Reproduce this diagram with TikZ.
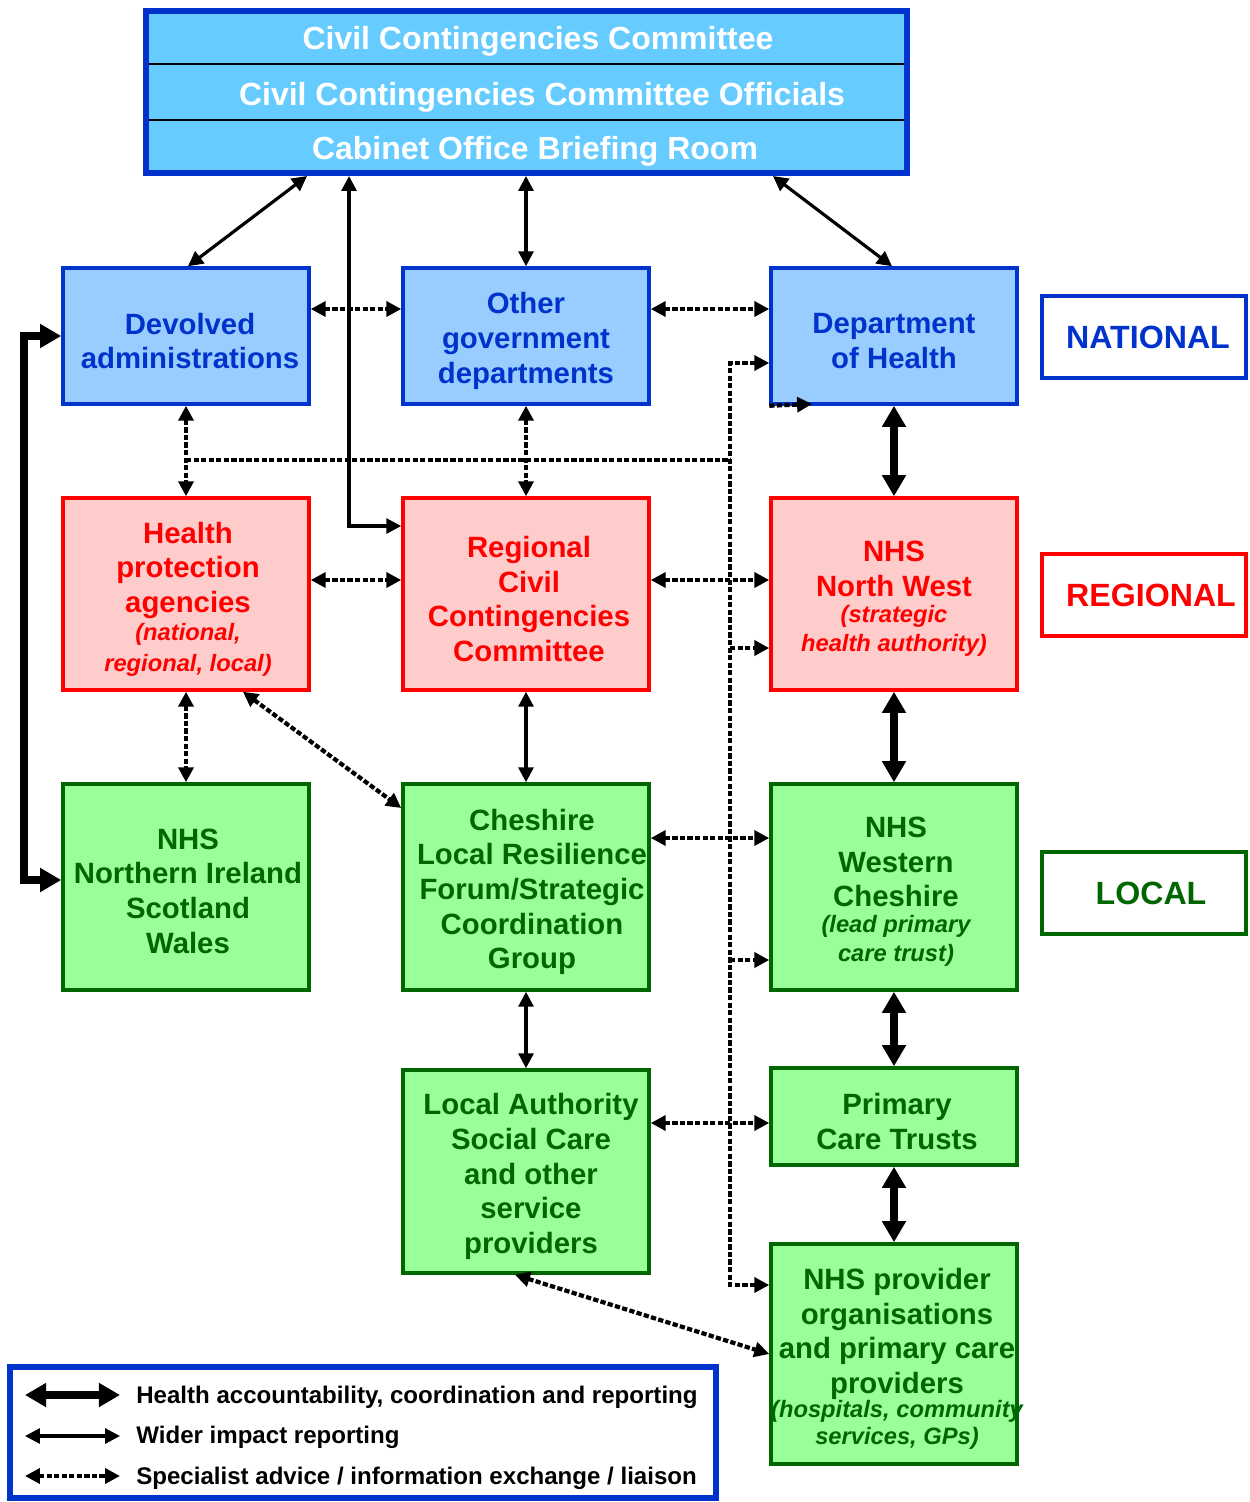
\documentclass[tikz,border=0pt]{standalone}
\usepackage{fontspec}
\setmainfont{Liberation Sans}
\usetikzlibrary{arrows.meta}
\definecolor{topfill}{HTML}{66CCFF}
\definecolor{natfill}{HTML}{99CCFF}
\definecolor{natline}{HTML}{0033CC}
\definecolor{regfill}{HTML}{FFCCCC}
\definecolor{regline}{HTML}{FF0000}
\definecolor{locfill}{HTML}{99FF99}
\definecolor{locline}{HTML}{006600}
\newcommand\subt[1]{{\fontsize{13.5}{16}\selectfont\itshape #1}}
\begin{document}
\begin{tikzpicture}[x=0.02cm,y=-0.02cm,
  box/.style={draw, line width=2pt, rectangle, inner sep=0pt, minimum width=246*0.02cm},
  natbox/.style={box, fill=natfill, draw=natline},
  regbox/.style={box, fill=regfill, draw=regline},
  locbox/.style={box, fill=locfill, draw=locline},
  hgt/.style={minimum height=#1*0.02cm},
  btext/.style={align=center, inner sep=0pt, font=\fontsize{16.7}{19.7}\selectfont\bfseries},
  toptext/.style={text=white, font=\fontsize{18.2}{21}\selectfont\bfseries, inner sep=0pt},
  lvl/.style={draw, line width=2.2pt, fill=white, minimum width=204*0.02cm, minimum height=82*0.02cm, inner sep=0pt},
  lvltext/.style={font=\fontsize{18.3}{21}\selectfont\bfseries, inner sep=0pt},
  legtext/.style={anchor=west, font=\fontsize{13.7}{16}\selectfont\bfseries, inner sep=0pt},
  thickarr/.style={line width=5.1pt, {Triangle[width=13pt,length=12pt]}-{Triangle[width=13pt,length=12pt]}},
  solarr/.style={line width=1.8pt, {Triangle[width=8.5pt,length=8.5pt]}-{Triangle[width=8.5pt,length=8.5pt]}},
  dotln/.style={line width=2.4pt, dash pattern=on 3pt off 1.3pt},
  dotarr/.style={dotln, {Triangle[width=8.5pt,length=8.5pt]}-{Triangle[width=8.5pt,length=8.5pt]}},
  dotto/.style={dotln, -{Triangle[width=8.5pt,length=8.5pt]}}
]
\useasboundingbox (0,0) rectangle (1249,1502);

% top box
\node[draw=natline, fill=topfill, line width=3.4pt, minimum width=761*0.02cm, minimum height=162*0.02cm, inner sep=0pt] (top) at (526.5,92) {};
\draw[black, line width=1.3pt] (149,64) -- (904,64);
\draw[black, line width=1.3pt] (149,120) -- (904,120);
\node[toptext] (r1) at (538,41) {Civil Contingencies Committee};
\node[toptext] (r2) at (542,97) {Civil Contingencies Committee Officials};
\node[toptext] (r3) at (535,151) {Cabinet Office Briefing Room};

% national
\node[natbox, hgt=136] (dev) at (186,336) {};
\node[natbox, hgt=136] (ogd) at (526,336) {};
\node[natbox, hgt=136] (doh) at (894,336) {};
\node[btext, text=natline] (devT) at ([xshift=0.08cm,yshift=-0.1cm]dev.center) {Devolved\\administrations};
\node[btext, text=natline] (ogdT) at ([yshift=-0.1cm]ogd.center) {Other\\government\\departments};
\node[btext, text=natline] (dohT) at ([yshift=-0.1cm]doh.center) {Department\\of Health};

% regional
\node[regbox, hgt=192] (hpa) at (186,594) {};
\node[regbox, hgt=192] (rcc) at (526,594) {};
\node[regbox, hgt=192] (nw) at (894,594) {};
\node[btext, text=regline] (hpaT) at ([xshift=0.04cm,yshift=-0.1cm]hpa.center) {Health\\protection\\agencies\\[-4pt]\subt{(national,}\\[-2pt]\subt{regional, local)}};
\node[btext, text=regline] (rccT) at ([xshift=0.06cm,yshift=-0.1cm]rcc.center) {Regional\\Civil\\Contingencies\\Committee};
\node[btext, text=regline] (nwT) at ([yshift=-0.1cm]nw.center) {NHS\\North West\\[-5pt]\subt{(strategic}\\[-3pt]\subt{health authority)}};

% local
\node[locbox, hgt=206] (ni) at (186,887) {};
\node[locbox, hgt=206] (ch) at (526,887) {};
\node[locbox, hgt=206] (wc) at (894,887) {};
\node[locbox, hgt=203] (la) at (526,1171.5) {};
\node[locbox, hgt=97] (pct) at (894,1116.5) {};
\node[locbox, hgt=220] (prov) at (894,1354) {};
\node[btext, text=locline] (niT) at ([xshift=0.04cm,yshift=-0.08cm]ni.center) {NHS\\Northern Ireland\\Scotland\\Wales};
\node[btext, text=locline] (chT) at ([xshift=0.12cm,yshift=-0.1cm]ch.center) {Cheshire\\Local Resilience\\Forum/Strategic\\Coordination\\Group};
\node[btext, text=locline] (wcT) at ([xshift=0.04cm,yshift=-0.1cm]wc.center) {NHS\\Western\\Cheshire\\[-5pt]\subt{(lead primary}\\[-3pt]\subt{care trust)}};
\node[btext, text=locline] (laT) at ([xshift=0.1cm,yshift=-0.1cm]la.center) {Local Authority\\Social Care\\and other\\service\\providers};
\node[btext, text=locline] (pctT) at ([xshift=0.06cm,yshift=-0.1cm]pct.center) {Primary\\Care Trusts};
\node[btext, text=locline] (provT) at ([xshift=0.06cm,yshift=-0.1cm]prov.center) {NHS provider\\organisations\\and primary care\\providers\\[-6pt]\subt{(hospitals, community}\\[-4pt]\subt{services, GPs)}};

% level labels
\node[lvl, draw=natline] (nat) at (1144,337) {};
\node[lvl, draw=regline] (reg) at (1144,595) {};
\node[lvl, draw=locline] (loc) at (1144,893) {};
\node[lvltext, text=natline] (natT) at ([xshift=0.08cm]nat.center) {NATIONAL};
\node[lvltext, text=regline] (regT) at ([xshift=0.14cm]reg.center) {REGIONAL};
\node[lvltext, text=locline] (locT) at ([xshift=0.14cm]loc.center) {LOCAL};

% connectors: wider impact (solid)
\draw[solarr] ([xshift=-4.39cm]top.south) -- ([xshift=0.04cm]dev.north);
\draw[solarr] (top.south -| ogd.north) -- (ogd.north);
\draw[solarr] ([xshift=4.93cm]top.south) -- ([xshift=-0.04cm]doh.north);
\draw[solarr] ([xshift=-3.55cm]top.south) |- ([yshift=1.36cm]rcc.west);
\draw[solarr] (rcc.south) -- (ch.north);
\draw[solarr] (ch.south) -- (la.north);

% health accountability (thick)
\coordinate (lc) at (24,336);
\draw[thickarr] (dev.west) -- (lc) |- ([yshift=0.14cm]ni.west);
\draw[thickarr] (doh.south) -- (nw.north);
\draw[thickarr] (nw.south) -- (wc.north);
\draw[thickarr] (wc.south) -- (pct.north);
\draw[thickarr] (pct.south) -- (prov.north);

% specialist advice (dotted)
\draw[dotarr] ([yshift=0.54cm]dev.east) -- ([yshift=0.54cm]ogd.west);
\draw[dotarr] ([yshift=0.54cm]ogd.east) -- ([yshift=0.54cm]doh.west);
\draw[dotarr] (dev.south) -- (hpa.north);
\draw[dotarr] (ogd.south) -- (rcc.north);
\coordinate (h1) at (186,460);
\coordinate (h2) at (730,460);
\draw[dotln] (h1) -- (h2);
\coordinate (tTop) at (730,363);
\coordinate (tBot) at (730,1285);
\draw[dotarr] (doh.west |- tTop) -- (tTop) -- (tBot) -- (prov.west |- tBot);
\coordinate (stub) at (812,404);
\draw[dotto] (doh.south west) -- (stub);
\coordinate (b1) at (730,648);
\coordinate (b2) at (730,960);
\draw[dotto] (b1) -- (nw.west |- b1);
\draw[dotto] (b2) -- (wc.west |- b2);
\draw[dotarr] ([yshift=0.28cm]hpa.east) -- ([yshift=0.28cm]rcc.west);
\draw[dotarr] ([yshift=0.28cm]rcc.east) -- ([yshift=0.28cm]nw.west);
\draw[dotarr] (hpa.south) -- (ni.north);
\draw[dotarr] ([xshift=1.14cm]hpa.south) -- ([yshift=1.58cm]ch.west);
\draw[dotarr] ([yshift=0.98cm]ch.east) -- ([yshift=0.98cm]wc.west);
\coordinate (lp) at (649,1123);
\draw[dotarr] (la.east |- lp) -- (pct.west |- lp);
\draw[dotarr] ([xshift=-0.22cm]la.south) -- (prov.west);

% legend
\node[draw=natline, line width=3.4pt, minimum width=706*0.02cm, minimum height=131*0.02cm, inner sep=0pt] (leg) at (363,1432.5) {};
\coordinate (l1a) at (25,1395); \coordinate (l1b) at (120,1395);
\coordinate (l2a) at (25,1436); \coordinate (l2b) at (120,1436);
\coordinate (l3a) at (25,1476); \coordinate (l3b) at (120,1476);
\draw[thickarr] (l1a) -- (l1b);
\draw[solarr] (l2a) -- (l2b);
\draw[dotarr] (l3a) -- (l3b);
\node[legtext] (t1) at (136,1397) {Health accountability, coordination and reporting};
\node[legtext] (t2) at (136,1437) {Wider impact reporting};
\node[legtext] (t3) at (136,1478) {Specialist advice / information exchange / liaison};
\end{tikzpicture}
\end{document}
